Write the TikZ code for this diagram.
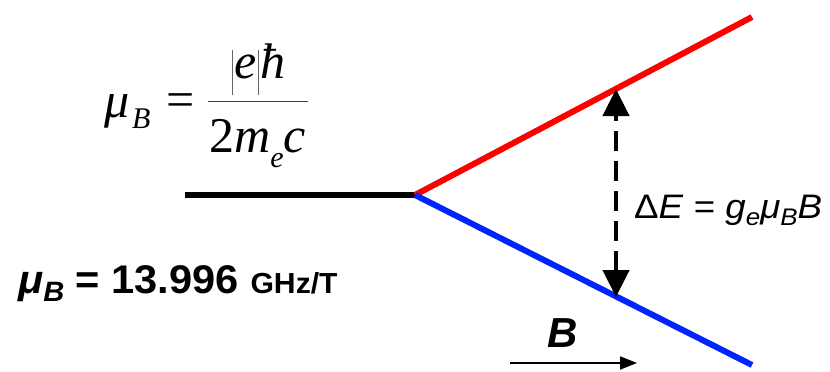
\documentclass[tikz,border=0pt]{standalone}
\usepackage{fontspec}
\usepackage{graphicx}
\setmainfont{Liberation Serif}
\setsansfont{Liberation Sans}
\newfontfamily\arialf{Liberation Sans}
\newfontfamily\timesf{Liberation Serif}
\usetikzlibrary{arrows.meta}
\definecolor{lred}{RGB}{255,0,0}
\definecolor{lblue}{RGB}{0,36,255}
\tikzset{
  level/.style={line width=6pt},
  lab/.style={inner sep=0pt, anchor=base west},
  splitarrow/.style={line width=4.5pt, dash pattern=on 20pt off 10pt, {Triangle[width=26pt,length=27pt]}-{Triangle[width=26pt,length=27pt]}},
  fieldarrow/.style={line width=1.8pt, -{Triangle[width=13pt,length=17pt]}},
}
\begin{document}
\begin{tikzpicture}[x=1pt,y=-1pt]
\useasboundingbox (0,0) rectangle (830,372);
% energy levels
\coordinate (start) at (185,195);
\coordinate (j) at (415,195);
\coordinate (up) at (752,17);
\coordinate (dn) at (752,365);
\draw[level,black] (start) -- (j);
\draw[level,lred] (j) -- (up);
\draw[level,lblue] (j) -- (dn);
% splitting arrow
\coordinate (top) at (616,89);
\coordinate (bot) at (616,297);
\draw[splitarrow] (bot) -- (top);
\node[lab] (dE) at (634,218) {\scalebox{1.08}[1]{\arialf\fontsize{34}{34}\selectfont Δ\textit{E} = \textit{g}\raisebox{-0.22em}{\fontsize{24}{24}\selectfont\textit{e}}\textit{μ}\raisebox{-0.22em}{\fontsize{24}{24}\selectfont\textit{B}}\textit{B}}};
% field arrow
\coordinate (fa) at (510,363);
\coordinate (fb) at (637,363);
\draw[fieldarrow] (fa) -- (fb);
\node[lab] (Blab) at (547,347) {\arialf\bfseries\itshape\fontsize{42}{42}\selectfont B};
% Bohr magneton value
\node[lab] (val) at (18,293) {\scalebox{1.04}[1]{\arialf\bfseries\fontsize{40}{40}\selectfont\textit{μ}\raisebox{-0.22em}{\fontsize{28}{28}\selectfont\textit{B}} = 13.996 {\fontsize{29}{29}\selectfont GHz/T}}};
% formula
\node[lab] (mu) at (104,117) {\timesf\itshape\fontsize{50}{50}\selectfont μ};
\node[lab] (muB) at (132,128) {\timesf\itshape\fontsize{30}{30}\selectfont B};
\node[lab] (eq) at (166,116) {\timesf\fontsize{50}{50}\selectfont =};
\coordinate (fl) at (208,101);
\coordinate (fr) at (308,101);
\draw[line width=1pt,black!75] (fl) -- (fr);
\node[lab] (num) at (234,78) {\timesf\itshape\fontsize{50}{50}\selectfont e\kern4pt ħ};
\coordinate (b1t) at (232,50);
\coordinate (b1b) at (232,95);
\coordinate (b2t) at (258,50);
\coordinate (b2b) at (258,95);
\draw[line width=1pt,black!60] (b1t) -- (b1b);
\draw[line width=1pt,black!60] (b2t) -- (b2b);
\node[lab] (den) at (209,152) {\timesf\fontsize{50}{50}\selectfont 2\textit{m}\raisebox{-0.3em}{\fontsize{30}{30}\selectfont\textit{e}}\textit{c}};
\end{tikzpicture}
\end{document}
